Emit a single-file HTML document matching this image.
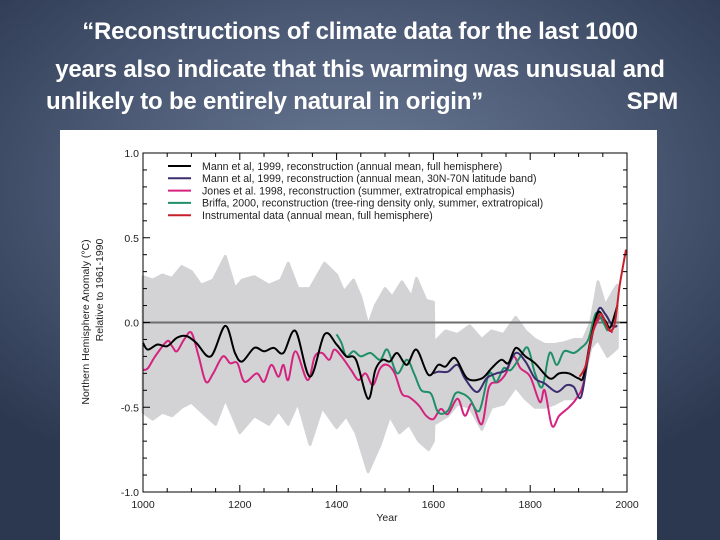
<!DOCTYPE html>
<html><head><meta charset="utf-8"><style>
html,body{margin:0;padding:0}
body{width:720px;height:540px;overflow:hidden;position:relative;background:radial-gradient(ellipse 70% 60% at 50% 35%,#6c7b96 0%,#4a5873 55%,#2c3850 100%);font-family:"Liberation Sans",sans-serif}
.t{position:absolute;left:0;width:720px;color:#fff;font-weight:bold;font-size:24px;white-space:nowrap;letter-spacing:-0.2px}
</style></head><body>
<div class="t" style="top:18px;text-align:center;">“Reconstructions of climate data for the last 1000</div>
<div class="t" style="top:56px;text-align:center;">years also indicate that this warming was unusual and</div>
<div class="t" style="top:88px;left:46px;width:630px;">unlikely to be entirely natural in origin”<span style="position:absolute;right:-2px">SPM</span></div>
<svg id="chart" width="720" height="540" style="position:absolute;left:0;top:0" xmlns="http://www.w3.org/2000/svg" font-family="Liberation Sans, sans-serif">
<rect x="60" y="130" width="597" height="410" fill="#fff"/>
</svg>
<script>
const yTicks=[1.0,0.5,0.0,-0.5,-1.0];
const yTickLabels=["1.0","0.5","0.0","-0.5","-1.0"];
const xTicks=[1000,1200,1400,1600,1800,2000];
const bandYears=[1000,1020,1040,1060,1080,1100,1120,1145,1170,1190,1205,1230,1260,1285,1300,1320,1345,1375,1400,1415,1435,1450,1465,1480,1500,1515,1535,1555,1565,1585,1600,1601,1625,1650,1675,1700,1720,1745,1770,1790,1810,1830,1850,1870,1890,1910,1925,1940,1955,1975,1980];
const bandUpper=[0.27,0.25,0.28,0.26,0.33,0.3,0.22,0.25,0.39,0.2,0.25,0.27,0.22,0.25,0.35,0.2,0.2,0.35,0.28,0.18,0.25,0.15,-0.02,0.1,0.2,0.15,0.24,0.15,0.26,0.13,0.12,-0.12,-0.05,-0.07,-0.02,-0.1,-0.05,-0.07,0.03,-0.05,-0.1,-0.13,-0.13,-0.12,-0.1,-0.1,0.0,0.24,0.1,0.2,0.22];
const bandLowYears=[1000,1020,1040,1060,1080,1100,1130,1150,1170,1200,1230,1260,1280,1300,1320,1345,1370,1400,1420,1440,1465,1490,1510,1530,1550,1570,1590,1600,1601,1630,1650,1675,1700,1720,1745,1770,1790,1810,1830,1850,1870,1890,1910,1925,1940,1960,1980];
const bandLower=[-0.53,-0.57,-0.53,-0.55,-0.5,-0.47,-0.55,-0.6,-0.45,-0.65,-0.55,-0.6,-0.52,-0.6,-0.47,-0.72,-0.5,-0.62,-0.55,-0.65,-0.88,-0.72,-0.55,-0.65,-0.6,-0.7,-0.75,-0.7,-0.6,-0.55,-0.48,-0.5,-0.63,-0.5,-0.48,-0.38,-0.45,-0.5,-0.5,-0.48,-0.45,-0.45,-0.35,-0.15,-0.1,-0.2,-0.15];
const jonesYears=[1000,1010,1025,1050,1060,1070,1085,1100,1115,1130,1145,1165,1180,1195,1210,1235,1250,1265,1280,1290,1300,1315,1340,1355,1370,1385,1395,1410,1430,1445,1460,1475,1490,1505,1520,1535,1550,1570,1585,1600,1615,1630,1650,1665,1680,1700,1715,1735,1750,1765,1780,1800,1820,1830,1845,1860,1880,1895,1910,1925,1945,1960,1970];
const jonesValues=[-0.28,-0.27,-0.2,-0.11,-0.14,-0.17,-0.1,-0.06,-0.2,-0.35,-0.3,-0.2,-0.24,-0.24,-0.35,-0.3,-0.35,-0.25,-0.32,-0.25,-0.34,-0.17,-0.34,-0.2,-0.18,-0.22,-0.16,-0.2,-0.28,-0.34,-0.3,-0.37,-0.27,-0.25,-0.3,-0.42,-0.44,-0.49,-0.55,-0.57,-0.51,-0.54,-0.45,-0.55,-0.48,-0.6,-0.38,-0.35,-0.3,-0.2,-0.27,-0.32,-0.47,-0.4,-0.61,-0.55,-0.5,-0.45,-0.36,-0.1,0.03,-0.03,-0.06];
const briffaYears=[1400,1410,1420,1435,1450,1470,1490,1505,1525,1545,1560,1575,1595,1610,1630,1645,1660,1675,1695,1715,1730,1745,1760,1780,1795,1810,1825,1840,1855,1870,1890,1905,1920,1935,1945,1960];
const briffaValues=[-0.07,-0.12,-0.2,-0.17,-0.2,-0.18,-0.22,-0.16,-0.3,-0.22,-0.3,-0.4,-0.42,-0.53,-0.52,-0.42,-0.42,-0.45,-0.52,-0.3,-0.35,-0.27,-0.28,-0.2,-0.15,-0.3,-0.38,-0.18,-0.25,-0.17,-0.18,-0.15,-0.1,0.05,0.03,-0.05];
const mannBandYears=[1600,1610,1630,1650,1665,1690,1710,1730,1750,1770,1790,1810,1830,1855,1875,1890,1905,1920,1940,1955,1970,1980];
const mannBandValues=[-0.3,-0.29,-0.29,-0.25,-0.33,-0.41,-0.33,-0.3,-0.28,-0.18,-0.23,-0.33,-0.36,-0.41,-0.37,-0.38,-0.44,-0.2,0.07,0.05,-0.02,-0.02];
const mannYears=[1000,1010,1030,1050,1070,1090,1110,1140,1170,1190,1205,1230,1250,1270,1290,1315,1345,1375,1400,1420,1440,1465,1480,1495,1510,1525,1545,1565,1590,1610,1625,1645,1670,1700,1720,1740,1755,1770,1790,1810,1840,1860,1880,1900,1910,1925,1940,1955,1965,1975,1980];
const mannValues=[-0.12,-0.16,-0.13,-0.14,-0.09,-0.08,-0.12,-0.2,-0.02,-0.18,-0.23,-0.15,-0.17,-0.15,-0.18,-0.05,-0.32,-0.07,-0.13,-0.2,-0.22,-0.45,-0.28,-0.22,-0.23,-0.18,-0.25,-0.16,-0.31,-0.25,-0.26,-0.21,-0.33,-0.33,-0.27,-0.22,-0.24,-0.15,-0.2,-0.24,-0.33,-0.3,-0.3,-0.33,-0.32,-0.1,0.06,0.01,-0.03,0.05,0.1];
const instYears=[1902,1915,1930,1945,1955,1965,1975,1985,1998];
const instValues=[-0.32,-0.25,-0.05,0.05,0.0,-0.05,0.0,0.22,0.43];
const legendLabels=["Mann et al, 1999, reconstruction (annual mean, full hemisphere)","Mann et al, 1999, reconstruction (annual mean, 30N-70N latitude band)","Jones et al. 1998, reconstruction (summer, extratropical emphasis)","Briffa, 2000, reconstruction (tree-ring density only, summer, extratropical)","Instrumental data (annual mean, full hemisphere)"];

const svg=document.getElementById('chart');
const NS='http://www.w3.org/2000/svg';
const L=143,R=627,T=153,B=492;
const xs=y=>L+(y-1000)/1000*(R-L);
const ys=v=>T+(1-v)/2*(B-T);
function mk(tag,attrs){const e=document.createElementNS(NS,tag);for(const k in attrs)e.setAttribute(k,attrs[k]);svg.appendChild(e);return e;}
function smooth(X,Y){const p=X.map((x,i)=>[xs(x),ys(Y[i])]);let d='M'+p[0][0].toFixed(1)+','+p[0][1].toFixed(1);
for(let i=0;i<p.length-1;i++){const p0=p[Math.max(0,i-1)],p1=p[i],p2=p[i+1],p3=p[Math.min(p.length-1,i+2)];
const c1=[p1[0]+(p2[0]-p0[0])/6,p1[1]+(p2[1]-p0[1])/6],c2=[p2[0]-(p3[0]-p1[0])/6,p2[1]-(p3[1]-p1[1])/6];
d+='C'+c1[0].toFixed(1)+','+c1[1].toFixed(1)+' '+c2[0].toFixed(1)+','+c2[1].toFixed(1)+' '+p2[0].toFixed(1)+','+p2[1].toFixed(1);}return d;}
function linear(X,Y){return X.map((x,i)=>(i?'L':'M')+xs(x).toFixed(1)+','+ys(Y[i]).toFixed(1)).join('');}
let bd=linear(bandYears,bandUpper);
for(let i=bandLowYears.length-1;i>=0;i--)bd+='L'+xs(bandLowYears[i]).toFixed(1)+','+ys(bandLower[i]).toFixed(1);
const band=mk('path',{d:bd+'Z',fill:'#d3d3d6','stroke':'#d3d3d6','stroke-width':3,'stroke-linejoin':'round'});


const zl=mk('line',{x1:L,x2:R,y1:ys(0),y2:ys(0),stroke:'#6e6e6e','stroke-width':2});


const series=[[jonesYears,jonesValues,'#d4237f','jones-1998-line'],[briffaYears,briffaValues,'#1f8f66','briffa-2000-line'],[mannBandYears,mannBandValues,'#3c2d6e','mann-30n70n-line'],[mannYears,mannValues,'#000','mann-full-line'],[instYears,instValues,'#c8202a','instrumental-line']];
series.forEach(s=>{const e=mk('path',{d:smooth(s[0],s[1]),fill:'none',stroke:s[2],'stroke-width':2});

});
const fr=mk('rect',{x:L,y:T,width:R-L,height:B-T,fill:'none',stroke:'#000','stroke-width':1});


for(let v=-1;v<=1.001;v+=0.1){const y=ys(v);const maj=Math.abs(Math.round(v*10)%5)==0;const len=maj?7:4;
const a=mk('line',{x1:L,x2:L+len,y1:y,y2:y,stroke:'#000'});
const b=mk('line',{x1:R,x2:R-len,y1:y,y2:y,stroke:'#000'});}
for(let yr=1000;yr<=2000;yr+=50){const x=xs(yr);const len=yr%200==0?7:4;
const a=mk('line',{x1:x,x2:x,y1:B,y2:B-len,stroke:'#000'});
const b=mk('line',{x1:x,x2:x,y1:T,y2:T+len,stroke:'#000'});}
yTicks.forEach((v,i)=>{const t=mk('text',{x:L-4,y:ys(v)+4,'text-anchor':'end','font-size':10.5,fill:'#222'});t.textContent=yTickLabels[i];

});
xTicks.forEach(v=>{const t=mk('text',{x:xs(v),y:B+16,'text-anchor':'middle','font-size':10.5,fill:'#222'});t.textContent=v;

});
const xt=mk('text',{x:387,y:521,'text-anchor':'middle','font-size':10.5,fill:'#222'});xt.textContent='Year';


const y1=mk('text',{x:0,y:0,'text-anchor':'middle','font-size':10.5,fill:'#222',transform:'translate(89,322) rotate(-90)'});y1.textContent='Northern Hemisphere Anomaly (°C)';


const y2=mk('text',{x:0,y:0,'text-anchor':'middle','font-size':10.5,fill:'#222',transform:'translate(103,290) rotate(-90)'});y2.textContent='Relative to 1961-1990';


const lc=['#000','#3c2d6e','#d4237f','#1f8f66','#c8202a'];
legendLabels.forEach((s,i)=>{const y=166+i*12.3;
const l=mk('line',{x1:168,x2:191,y1:y,y2:y,stroke:lc[i],'stroke-width':2});
const t=mk('text',{x:202,y:y+3.8,'font-size':10.6,fill:'#222'});t.textContent=s;});
</script>
</body></html>
